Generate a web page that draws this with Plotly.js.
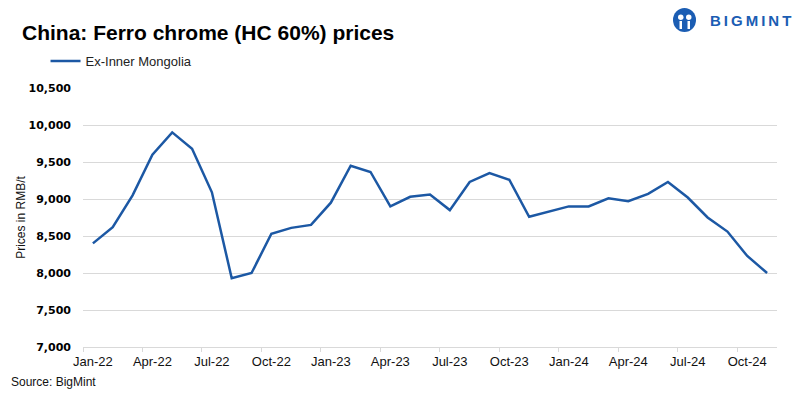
<!DOCTYPE html>
<html>
<head>
<meta charset="utf-8">
<script src="https://cdn.plot.ly/plotly-3.0.1.min.js"></script>
<style>
  html, body { margin: 0; padding: 0; background: #ffffff; }
  #chart { width: 800px; height: 399px; }
</style>
</head>
<body>
<div id="chart"></div>
<script>
// ---- Data ----
const months = [
  "Jan-22","Feb-22","Mar-22","Apr-22","May-22","Jun-22","Jul-22","Aug-22","Sep-22","Oct-22","Nov-22","Dec-22",
  "Jan-23","Feb-23","Mar-23","Apr-23","May-23","Jun-23","Jul-23","Aug-23","Sep-23","Oct-23","Nov-23","Dec-23",
  "Jan-24","Feb-24","Mar-24","Apr-24","May-24","Jun-24","Jul-24","Aug-24","Sep-24","Oct-24","Nov-24"
];
const exInnerMongolia = [
  8400, 8620, 9050, 9600, 9900, 9680, 9090, 7930, 8000, 8530, 8610, 8650,
  8950, 9450, 9365, 8900, 9030, 9060, 8850, 9230, 9350, 9260, 8760, 8830,
  8900, 8900, 9010, 8970, 9070, 9230, 9020, 8750, 8560, 8230, 8000
];
const seriesName = "Ex-Inner Mongolia";
const chartTitle = "China: Ferro chrome (HC 60%) prices";
const yTitle = "Prices in RMB/t";
const sourceText = "Source: BigMint";
const brand = "B\u2009I\u2009G\u2009M\u2009I\u2009N\u2009T";

const lineColor = "#1c58a4";
const brandColor = "#1b5db3";

const trace = {
  x: months,
  y: exInnerMongolia,
  type: "scatter",
  mode: "lines",
  name: seriesName,
  line: { color: lineColor, width: 2.5 },
  hoverinfo: "x+y"
};

const layout = {
  width: 800,
  height: 399,
  paper_bgcolor: "#ffffff",
  plot_bgcolor: "#ffffff",
  margin: { l: 83, r: 23, t: 88, b: 52 },
  font: { family: "Liberation Sans, Arial, sans-serif", color: "#000000" },
  title: {
    text: "<b>" + chartTitle + "</b>",
    font: { family: "Liberation Sans, Arial, sans-serif", size: 21, color: "#000000" },
    x: 22 / 800, xanchor: "left", xref: "container",
    y: 1 - 33 / 399, yanchor: "middle", yref: "container"
  },
  showlegend: true,
  legend: {
    orientation: "h",
    x: -0.054, xanchor: "left",
    y: 1 + 27 / 259, yanchor: "middle",
    font: { size: 13, color: "#222222" },
    bgcolor: "rgba(0,0,0,0)"
  },
  xaxis: {
    type: "category",
    range: [-0.5, months.length - 0.5],
    dtick: 3,
    tick0: 0,
    tickson: "boundaries",
    ticks: "outside",
    ticklen: 4,
    tickcolor: "#d9d9d9",
    showline: true,
    linecolor: "#d9d9d9",
    linewidth: 1,
    showgrid: false,
    zeroline: false,
    tickangle: 0,
    ticklabelstandoff: 2,
    tickfont: { size: 13, color: "#111111" }
  },
  yaxis: {
    range: [7000, 10500],
    dtick: 500,
    tick0: 7000,
    tickformat: ",d",
    showgrid: true,
    gridcolor: "#d9d9d9",
    gridwidth: 1,
    zeroline: false,
    showline: false,
    ticks: "",
    ticklabelstandoff: 11,
    tickfont: { family: "DejaVu Sans, sans-serif", size: 11, color: "#000000", weight: "bold" },
    title: {
      text: yTitle,
      font: { size: 12, color: "#111111" },
      standoff: 0
    }
  },
  annotations: [
    {
      text: sourceText,
      xref: "paper", yref: "paper",
      x: -74 / 694, xanchor: "left",
      y: -35 / 259, yanchor: "middle",
      showarrow: false,
      font: { size: 12, color: "#111111" }
    },
    {
      text: "<b>" + brand + "</b>",
      xref: "paper", yref: "paper",
      x: (793 - 83) / 694, xanchor: "right",
      y: 1 + 68 / 259, yanchor: "middle",
      showarrow: false,
      font: { size: 15, color: brandColor }
    }
  ],
  shapes: [
    { type: "circle", xref: "paper", yref: "paper",
      x0: (673 - 83) / 694, x1: (696 - 83) / 694,
      y0: 1 + (88 - 32) / 259, y1: 1 + (88 - 8) / 259,
      fillcolor: brandColor, line: { width: 0 } },
    { type: "circle", xref: "paper", yref: "paper",
      x0: (678 - 83) / 694, x1: (683.5 - 83) / 694,
      y0: 1 + (88 - 20) / 259, y1: 1 + (88 - 14.5) / 259,
      fillcolor: "#ffffff", line: { width: 0 } },
    { type: "circle", xref: "paper", yref: "paper",
      x0: (686 - 83) / 694, x1: (691.5 - 83) / 694,
      y0: 1 + (88 - 20) / 259, y1: 1 + (88 - 14.5) / 259,
      fillcolor: "#ffffff", line: { width: 0 } },
    { type: "rect", xref: "paper", yref: "paper",
      x0: (679.5 - 83) / 694, x1: (682 - 83) / 694,
      y0: 1 + (88 - 29) / 259, y1: 1 + (88 - 21) / 259,
      fillcolor: "#ffffff", line: { width: 0 } },
    { type: "rect", xref: "paper", yref: "paper",
      x0: (687.5 - 83) / 694, x1: (690 - 83) / 694,
      y0: 1 + (88 - 29) / 259, y1: 1 + (88 - 21) / 259,
      fillcolor: "#ffffff", line: { width: 0 } }
  ]
};

Plotly.newPlot("chart", [trace], layout, { displayModeBar: false, staticPlot: true });
</script>
</body>
</html>
